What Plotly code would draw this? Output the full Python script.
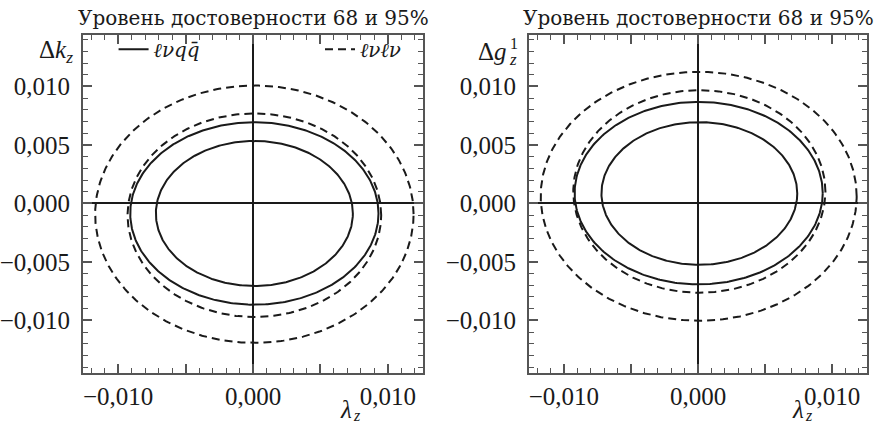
import numpy as np
import plotly.graph_objects as go

# ---- data (ellipse centres and semi-axes) ----
# left panel: lambda_z vs Delta k_z
k_names = ["lvqq 68%", "lvqq 95%", "lvlv 68%", "lvlv 95%"]
k_cx = [0.0001, 0.0001, 0.0001, 0.0001]
k_cy = [-0.00086, -0.00086, -0.00101, -0.00092]
k_ax = [0.0073, 0.0092, 0.0094, 0.0118]
k_by = [0.0062, 0.0078, 0.0087, 0.0110]
k_dash = [False, False, True, True]

# right panel: lambda_z vs Delta g_z^1
g_cx = [0.0001, 0.00005, 0.0001, 0.00005]
g_cy = [0.00085, 0.00088, 0.00102, 0.00061]
g_ax = [0.0073, 0.00925, 0.0094, 0.01178]
g_by = [0.0061, 0.0078, 0.00866, 0.01064]
g_dash = [False, False, True, True]

x_tickvals = [-0.010, -0.005, 0.0, 0.005, 0.010]
x_ticktext = ["−0,010", "", "0,000", "", "0,010"]
y_tickvals = [-0.010, -0.005, 0.0, 0.005, 0.010]
y_ticktext = ["−0,010", "−0,005", "0,000", "0,005", "0,010"]

title_text = "Уровень достоверности 68 и 95%"
legend_solid = "<i>ℓνqq̄</i>"
legend_dashed = "<i>ℓνℓν</i>"

FONT = "DejaVu Serif"
NUMFONT = "Liberation Serif"
INK = "#1a1a1a"
FRAME = "#555555"

t = np.linspace(0, 2 * np.pi, 400)

fig = go.Figure()


def add_panel(cx, cy, ax, by, dash, xa, ya, legend_on):
    for i in range(len(cx)):
        show = False
        name = ""
        leg = "legend"
        if legend_on and i == 0:
            show, name, leg = True, legend_solid, "legend"
        if legend_on and i == 2:
            show, name, leg = True, legend_dashed, "legend2"
        fig.add_trace(go.Scatter(
            x=cx[i] + ax[i] * np.cos(t),
            y=cy[i] + by[i] * np.sin(t),
            mode="lines",
            line=dict(color=INK, width=2, dash="8px,5px" if dash[i] else "solid"),
            xaxis=xa, yaxis=ya, showlegend=show, name=name, legend=leg,
            hoverinfo="skip",
        ))


add_panel(k_cx, k_cy, k_ax, k_by, k_dash, "x", "y", True)
add_panel(g_cx, g_cy, g_ax, g_by, g_dash, "x2", "y2", False)

common_x = dict(
    range=[-0.0126, 0.0126], tickvals=x_tickvals, ticktext=x_ticktext,
    ticks="inside", ticklen=9, tickwidth=1.5, tickcolor=FRAME,
    minor=dict(dtick=0.001, ticks="inside", ticklen=5, tickwidth=1.3, tickcolor=FRAME),
    showline=True, linecolor=FRAME, linewidth=2, mirror="allticks",
    showgrid=False, zeroline=True, zerolinecolor=INK, zerolinewidth=1.5,
    tickfont=dict(family=NUMFONT, size=25, color=INK), fixedrange=True,
    automargin=False, ticklabelstandoff=0,
)
common_y = dict(
    range=[-0.0145, 0.0144], tickvals=y_tickvals, ticktext=y_ticktext,
    ticks="inside", ticklen=9, tickwidth=1.5, tickcolor=FRAME,
    minor=dict(dtick=0.001, ticks="inside", ticklen=5, tickwidth=1.3, tickcolor=FRAME),
    showline=True, linecolor=FRAME, linewidth=2, mirror="allticks",
    showgrid=False, zeroline=True, zerolinecolor=INK, zerolinewidth=1.5,
    tickfont=dict(family=NUMFONT, size=25, color=INK), fixedrange=True,
    automargin=False, ticklabelstandoff=6,
)

fig.update_layout(
    width=886, height=425,
    margin=dict(l=83, r=19, t=35, b=52, autoexpand=False),
    paper_bgcolor="white", plot_bgcolor="white",
    xaxis=dict(domain=[0, 0.4337], anchor="y", **common_x),
    yaxis=dict(domain=[0, 1], anchor="x", **common_y),
    xaxis2=dict(domain=[0.5689, 1], anchor="y2", **common_x),
    yaxis2=dict(domain=[0, 1], anchor="x2", **common_y),
    legend=dict(x=0.039, y=0.958, xanchor="left", yanchor="middle",
                bgcolor="rgba(0,0,0,0)", font=dict(family=FONT, size=20, color=INK),
                tracegroupgap=0, itemwidth=30),
    legend2=dict(x=0.412, y=0.958, xanchor="right", yanchor="middle",
                 bgcolor="rgba(0,0,0,0)", font=dict(family=FONT, size=20, color=INK),
                 tracegroupgap=0, itemwidth=30),
    showlegend=True,
)

ann = []
for xr, yr, lx in [("x domain", "y domain", 0.797), ("x2 domain", "y2 domain", 0.82)]:
    ann.append(dict(text=title_text, xref=xr, yref=yr, x=0.5, y=1, xanchor="center",
                    yanchor="bottom", yshift=3, showarrow=False,
                    font=dict(family=FONT, size=20, color=INK)))
    ann.append(dict(text="<i>λ</i>", xref=xr, yref=yr, x=lx, y=0,
                    xanchor="right", yanchor="middle", yshift=-36, showarrow=False,
                    font=dict(family=NUMFONT, size=25, color=INK)))
    ann.append(dict(text="<i>z</i>", xref=xr, yref=yr, x=lx, y=0,
                    xanchor="left", yanchor="middle", xshift=-3, yshift=-42,
                    showarrow=False, font=dict(family=NUMFONT, size=16, color=INK)))

# y-axis labels
ann.append(dict(text="Δ<i>k</i><sub><i>z</i></sub>", xref="x domain", yref="y domain",
                x=0, y=0.95, xanchor="right", yanchor="middle", xshift=-8,
                showarrow=False, font=dict(family=NUMFONT, size=25, color=INK)))
ann.append(dict(text="Δ<i>g</i>", xref="x2 domain", yref="y2 domain",
                x=0, y=0.95, xanchor="right", yanchor="middle", xshift=-20,
                showarrow=False, font=dict(family=NUMFONT, size=25, color=INK)))
ann.append(dict(text="1", xref="x2 domain", yref="y2 domain",
                x=0, y=0.95, xanchor="left", yanchor="middle", xshift=-21, yshift=8,
                showarrow=False, font=dict(family=NUMFONT, size=16, color=INK)))
ann.append(dict(text="<i>z</i>", xref="x2 domain", yref="y2 domain",
                x=0, y=0.95, xanchor="left", yanchor="middle", xshift=-22, yshift=-8,
                showarrow=False, font=dict(family=NUMFONT, size=17, color=INK)))
fig.update_layout(annotations=ann)

fig.write_html("out.html", config={"displayModeBar": False},
               post_script="document.body.style.margin='0px';")
